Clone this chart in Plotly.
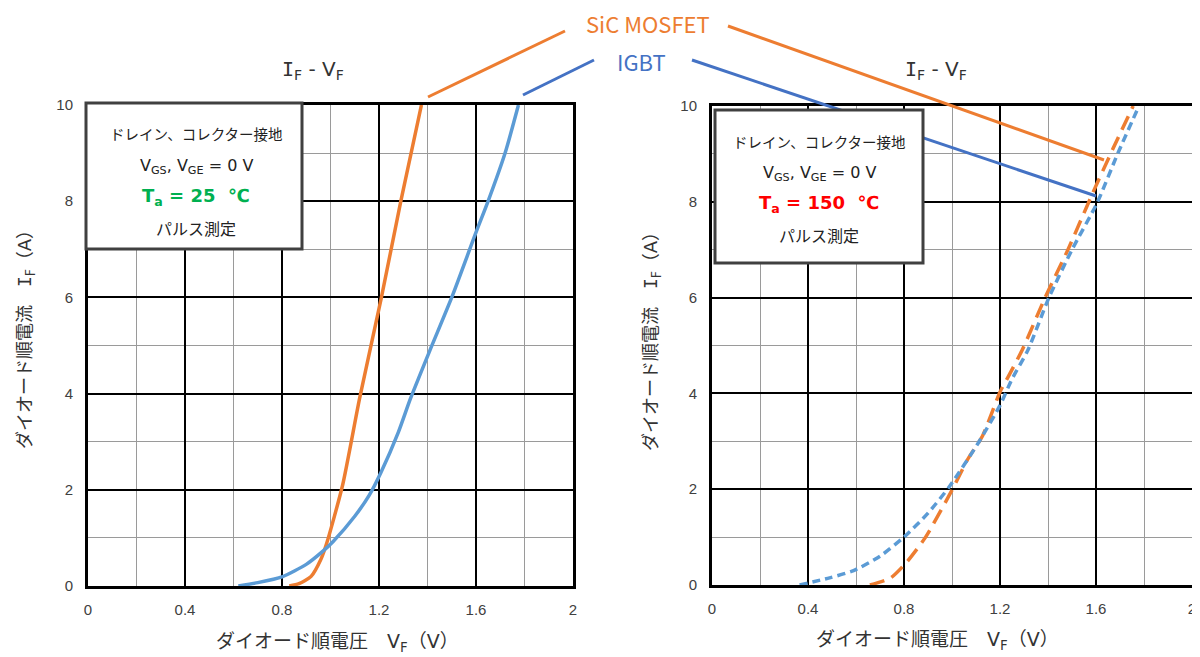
import plotly.graph_objects as go

# ---- data ----
sic25_v = [0.83, 0.87, 0.92, 0.96, 0.985, 1.05, 1.12, 1.21, 1.29, 1.375]
sic25_i = [0.0, 0.05, 0.2, 0.55, 0.9, 2.1, 3.9, 6.0, 8.0, 10.0]
igbt25_v = [0.62, 0.70, 0.80, 0.90, 0.97, 1.01, 1.10, 1.16, 1.207, 1.28, 1.33, 1.41, 1.50, 1.60, 1.65, 1.72, 1.775]
igbt25_i = [0.0, 0.07, 0.19, 0.45, 0.73, 0.92, 1.45, 1.89, 2.35, 3.2, 3.9, 4.9, 6.0, 7.35, 8.0, 9.0, 10.0]
sic150_v = [0.658, 0.745, 0.81, 0.89, 1.0, 1.065, 1.127, 1.2, 1.23, 1.292, 1.388, 1.483, 1.587, 1.67, 1.755]
sic150_i = [0.0, 0.15, 0.47, 1.0, 1.98, 2.62, 3.11, 4.03, 4.31, 4.9, 6.0, 7.0, 8.19, 9.1, 10.0]
igbt150_v = [0.365, 0.49, 0.59, 0.70, 0.80, 0.90, 0.99, 1.11, 1.20, 1.25, 1.316, 1.404, 1.50, 1.604, 1.69, 1.779]
igbt150_i = [0.0, 0.15, 0.3, 0.6, 1.0, 1.5, 2.06, 2.97, 3.75, 4.3, 4.9, 6.0, 7.0, 7.97, 9.0, 10.0]

x_ticks = [0, 0.4, 0.8, 1.2, 1.6, 2]
x_ticktext = ["0", "0.4", "0.8", "1.2", "1.6", "2"]
y_ticks = [0, 2, 4, 6, 8, 10]
y_ticktext = ["0", "2", "4", "6", "8", "10"]


def span(t, fam):
    return '<span style="font-family:%s">%s</span>' % (fam, t)


SERIF_I = span("I", "DejaVu Sans Mono")
title_text = SERIF_I + "<sub>F</sub> - V<sub>F</sub>"
xlabel = "ダイオード順電圧　" + span("V<sub>F</sub>", "DejaVu Sans") + "（" + span("V", "DejaVu Sans") + "）"
ylabel = "ダイオード順電流　" + SERIF_I + "<sub>F</sub>（" + span("A", "DejaVu Sans") + "）"
box_cjk_1 = "ドレイン、コレクター接地"
box_latin = "V<sub>GS</sub>, V<sub>GE</sub> = 0 V"
box_temp_left = "<b>T<sub>a</sub> = 25  ℃</b>"
box_temp_right = "<b>T<sub>a</sub> = 150  ℃</b>"
box_cjk_2 = "パルス測定"

ORANGE = "#ED7D31"
BLUE_CURVE = "#5B9BD5"
BLUE_LABEL = "#4472C4"
FONT = "Noto Sans CJK JP"
LATIN = "DejaVu Sans"
TICKFONT = "Liberation Sans"

W, H = 1200, 657
OFF = 8  # default page body margin


def px(x):
    return (x - OFF) / W


def py(y):
    return 1 - (y - OFF) / H


fig = go.Figure()
fig.add_trace(go.Scatter(x=sic25_v, y=sic25_i, mode="lines", line=dict(color=ORANGE, width=3.5, shape="spline", smoothing=0.6),
                         xaxis="x", yaxis="y", showlegend=False))
fig.add_trace(go.Scatter(x=igbt25_v, y=igbt25_i, mode="lines", line=dict(color=BLUE_CURVE, width=3.5, shape="spline", smoothing=0.6),
                         xaxis="x", yaxis="y", showlegend=False))
fig.add_trace(go.Scatter(x=sic150_v, y=sic150_i, mode="lines", line=dict(color=ORANGE, width=3.5, dash="15px,8px", shape="spline", smoothing=0.6),
                         xaxis="x2", yaxis="y2", showlegend=False))
fig.add_trace(go.Scatter(x=igbt150_v, y=igbt150_i, mode="lines", line=dict(color=BLUE_CURVE, width=3.5, dash="8px,5px", shape="spline", smoothing=0.6),
                         xaxis="x2", yaxis="y2", showlegend=False))


def xaxis_cfg(domain, anchor):
    return dict(domain=domain, anchor=anchor, range=[0, 2], tickvals=x_ticks, ticktext=x_ticktext,
                showgrid=True, gridcolor="black", gridwidth=2,
                minor=dict(dtick=0.2, tick0=0, showgrid=True, gridcolor="#9a9a9a", gridwidth=1),
                showline=True, mirror=True, linecolor="black", linewidth=3, zeroline=False,
                ticks="", ticklabelstandoff=8, automargin=False,
                tickfont=dict(family=TICKFONT, size=15, color="#404040"), fixedrange=True)


def yaxis_cfg(domain, anchor):
    return dict(domain=domain, anchor=anchor, range=[0, 10], tickvals=y_ticks, ticktext=y_ticktext,
                showgrid=True, gridcolor="black", gridwidth=2,
                minor=dict(dtick=1, tick0=0, showgrid=True, gridcolor="#9a9a9a", gridwidth=1),
                showline=True, mirror=True, linecolor="black", linewidth=3, zeroline=False,
                ticks="", ticklabelstandoff=9, automargin=False,
                tickfont=dict(family=TICKFONT, size=15, color="#404040"), fixedrange=True)


fig.update_layout(
    width=W, height=H,
    margin=dict(l=0, r=0, t=0, b=0, pad=0, autoexpand=False),
    paper_bgcolor="white", plot_bgcolor="white",
    xaxis=xaxis_cfg([px(88), px(573)], "y"),
    yaxis=yaxis_cfg([py(586), py(105)], "x"),
    xaxis2=xaxis_cfg([px(712), px(1192)], "y2"),
    yaxis2=yaxis_cfg([py(585), py(106)], "x2"),
    showlegend=False,
)

shapes = [
    # leader lines
    dict(type="line", xref="paper", yref="paper", x0=px(428), y0=py(97), x1=px(565), y1=py(31), line=dict(color=ORANGE, width=3)),
    dict(type="line", xref="paper", yref="paper", x0=px(523), y0=py(95), x1=px(594), y1=py(60), line=dict(color=BLUE_LABEL, width=3)),
    dict(type="line", xref="paper", yref="paper", x0=px(728), y0=py(26), x1=px(1104), y1=py(160), line=dict(color=ORANGE, width=3)),
    dict(type="line", xref="paper", yref="paper", x0=px(692), y0=py(60), x1=px(1096), y1=py(196), line=dict(color=BLUE_LABEL, width=3)),
    # condition boxes
    dict(type="rect", xref="paper", yref="paper", x0=px(86), y0=py(103), x1=px(302), y1=py(249),
         fillcolor="white", line=dict(color="#404040", width=3), layer="above"),
    dict(type="rect", xref="paper", yref="paper", x0=px(715), y0=py(110), x1=px(923), y1=py(263),
         fillcolor="white", line=dict(color="#404040", width=3), layer="above"),
]
fig.update_layout(shapes=shapes)

ann = []


def text(x, y, t, size, color="#222222", angle=0, family=FONT):
    ann.append(dict(xref="paper", yref="paper", x=px(x), y=py(y), text=t, showarrow=False,
                    xanchor="center", yanchor="middle", textangle=angle,
                    font=dict(family=family, size=size, color=color)))


text(648, 23, "SiC MOSFET", 22, ORANGE)
text(641, 61, "IGBT", 22, BLUE_LABEL)
text(313, 70, title_text, 20, "#333333", family=LATIN)
text(936, 70, title_text, 20, "#333333", family=LATIN)
text(337, 640, xlabel, 19, "#333333")
text(937, 638, xlabel, 19, "#333333")
text(25, 335, ylabel, 18, "#333333", angle=-90)
text(650, 337, ylabel, 18, "#333333", angle=-90)

# left box
text(196, 133, box_cjk_1, 14.5)
text(196, 166, box_latin, 16, family=LATIN)
text(196, 197, box_temp_left, 18, "#00B050", family=LATIN)
text(196, 228, box_cjk_2, 16)
# right box
text(819, 141, box_cjk_1, 14.5)
text(819, 173, box_latin, 16, family=LATIN)
text(819, 204, box_temp_right, 18, "#FF0000", family=LATIN)
text(819, 235, box_cjk_2, 16)

fig.update_layout(annotations=ann)
fig.write_html("out.html")
